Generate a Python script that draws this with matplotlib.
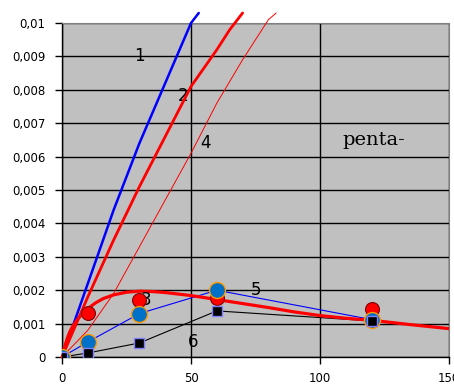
import matplotlib
matplotlib.use("Agg")
import matplotlib.pyplot as plt

# curve 1 (blue)
x1 = [0, 5, 10, 15, 20, 25, 30, 35, 40, 45, 50, 53]
y1 = [0, 0.0011, 0.0022, 0.0033, 0.0044, 0.0054, 0.0064, 0.0073, 0.0082, 0.0091, 0.01, 0.0103]
# curve 2 (thick red)
x2 = [0, 10, 20, 30, 40, 50, 60, 65, 70]
y2 = [0, 0.0018, 0.0035, 0.0051, 0.0066, 0.0081, 0.0092, 0.0098, 0.0103]
# curve 4 (thin red)
x4 = [0, 10, 20, 30, 40, 50, 60, 70, 80, 83]
y4 = [0, 0.0008, 0.0019, 0.0033, 0.0047, 0.0061, 0.0076, 0.0089, 0.0101, 0.0103]
# curve 3 (smooth red fit)
x3 = [0, 1, 2, 3, 4, 6, 8, 10, 13, 16, 20, 25, 30, 35, 40, 50, 60, 70, 80, 90,
      100, 110, 120, 135, 150]
y3 = [0, 0.0003, 0.00055, 0.00075, 0.0009, 0.00113, 0.0013, 0.00145, 0.00162,
      0.00175, 0.00186, 0.00194, 0.00197, 0.00196, 0.00193, 0.00184, 0.00172,
      0.0016, 0.00148, 0.00135, 0.00124, 0.00116, 0.0011, 0.00097, 0.00085]
# measured points
t = [0, 10, 30, 60, 120]
red_pts = [0, 0.00132, 0.0017, 0.00177, 0.00145]
blue_pts = [0, 0.00045, 0.0013, 0.002, 0.00112]
black_pts = [0, 0.00012, 0.00042, 0.00138, 0.00108]

yticks = [i / 1000 for i in range(11)]
ylabels = ["0"] + ["0,%03d" % i for i in range(1, 10)] + ["0,01"]

fig = plt.figure(figsize=(4.54, 3.88), dpi=100)
ax = fig.add_axes([0.1366, 0.0799, 0.8524, 0.8608])
ax.set_facecolor("#c0c0c0")

kw = dict(solid_joinstyle="round", solid_capstyle="round")
ax.plot(x1, y1, color="#0000ff", lw=1.8, clip_on=False, zorder=3, **kw)
ax.plot(x2, y2, color="#ff0000", lw=2.0, clip_on=False, zorder=3, **kw)
ax.plot(x4, y4, color="#ff0000", lw=0.7, clip_on=False, zorder=3, **kw)
ax.plot(t, black_pts, color="black", lw=0.8, zorder=3)
ax.plot(t, blue_pts, color="#0000ff", lw=0.8, zorder=3)
ax.plot(t[1:], red_pts[1:], ls="none", marker="o", ms=10, mfc="#ff0000",
        mec="#800000", mew=0.8, zorder=5)
ax.plot(x3, y3, color="#ff0000", lw=2.3, zorder=4, **kw)
ax.plot(t, blue_pts, ls="none", marker="o", ms=11.5, mfc="#0070c8",
        mec="#ff9900", mew=1.0, zorder=6)
ax.plot(t, black_pts, ls="none", marker="s", ms=7, mfc="black",
        mec="#8080ff", mew=1.0, zorder=7)

ax.text(30, 0.0090, "1", fontsize=12, ha="center", va="center", zorder=2)
ax.text(47, 0.0078, "2", fontsize=12, ha="center", va="center", zorder=2)
ax.text(55.5, 0.0064, "4", fontsize=12, ha="center", va="center", zorder=2)
ax.text(32.5, 0.0017, "3", fontsize=12, ha="center", va="center", zorder=4.5)
ax.text(75, 0.0020, "5", fontsize=12, ha="center", va="center", zorder=2)
ax.text(51, 0.00045, "6", fontsize=12, ha="center", va="center", zorder=2)
ax.text(121, 0.0065, "penta-", fontsize=14, family="DejaVu Serif",
        ha="center", va="center", zorder=2)

ax.set_xlim(0, 150)
ax.set_ylim(0, 0.01)
ax.set_xticks([0, 50, 100, 150])
ax.set_yticks(yticks)
ax.set_yticklabels(ylabels)
ax.grid(True, color="black", lw=1.0)
ax.set_axisbelow(True)
ax.tick_params(labelsize=8.5, length=5, width=1, direction="out")
ax.tick_params(axis="y", pad=7)
ax.tick_params(axis="x", pad=6)
for s in ["top", "right"]:
    ax.spines[s].set_color("#808080")
for s in ["left", "bottom"]:
    ax.spines[s].set_color("black")
    ax.spines[s].set_linewidth(1.0)

fig.savefig("out.png", dpi=100)
